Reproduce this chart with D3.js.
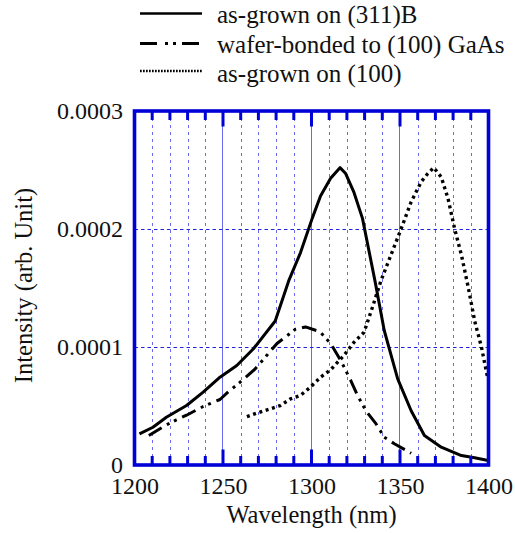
<!DOCTYPE html>
<html>
<head>
<meta charset="utf-8">
<script src="https://cdn.jsdelivr.net/npm/d3@7"></script>
<style>
    body { margin: 0; background: #ffffff; }
    svg text { font-family: 'Liberation Serif', 'Times New Roman', 'DejaVu Serif', serif; }
</style>
</head>
<body>
<div id="chart"></div>
<script>

// as-grown on (311)B  (solid)
let grown311Wavelength = [1202.8, 1210.4, 1218, 1229.4, 1238.8, 1248.3, 1257.8, 1267.2, 1279.5, 1287.1, 1293.8, 1300.4, 1305.1, 1310.8, 1316.1, 1319.3, 1324, 1328.8, 1336, 1341.1, 1348.7, 1356.3, 1363.8, 1373.3, 1384.7, 1392.2, 1399.8];
let grown311Intensity = [0.264e-4, 0.32e-4, 0.405e-4, 0.504e-4, 0.617e-4, 0.744e-4, 0.843e-4, 0.985e-4, 1.22e-4, 1.56e-4, 1.8e-4, 2.09e-4, 2.28e-4, 2.43e-4, 2.52e-4, 2.47e-4, 2.31e-4, 2.09e-4, 1.55e-4, 1.14e-4, 0.73e-4, 0.46e-4, 0.25e-4, 0.151e-4, 0.08e-4, 0.061e-4, 0.038e-4];

// wafer-bonded to (100) GaAs  (dash-dot)
let bondedWavelength = [1208.1, 1217.4, 1223.7, 1229.4, 1238.8, 1248.3, 1253, 1261.5, 1268.2, 1274.8, 1280.5, 1290.9, 1296.6, 1304.7, 1310.8, 1316.5, 1322.2, 1326, 1330.7, 1336.4, 1341.1, 1346.8, 1356.3];
let bondedIntensity = [0.25e-4, 0.335e-4, 0.383e-4, 0.422e-4, 0.496e-4, 0.555e-4, 0.62e-4, 0.725e-4, 0.815e-4, 0.93e-4, 1.03e-4, 1.15e-4, 1.17e-4, 1.13e-4, 1.03e-4, 0.886e-4, 0.716e-4, 0.59e-4, 0.46e-4, 0.35e-4, 0.236e-4, 0.18e-4, 0.1e-4];

// as-grown on (100)  (dotted)
let grown100Wavelength = [1263.5, 1269.1, 1276.7, 1282.4, 1288.1, 1293.8, 1299.4, 1305.1, 1310.8, 1318.4, 1324, 1329.7, 1334.5, 1339.2, 1344.9, 1350.6, 1356.3, 1362, 1365.7, 1369.1, 1373.3, 1377.1, 1380.9, 1384.7, 1388.5, 1392.2, 1396, 1399.5];
let grown100Intensity = [0.41e-4, 0.44e-4, 0.476e-4, 0.504e-4, 0.56e-4, 0.59e-4, 0.66e-4, 0.744e-4, 0.807e-4, 0.93e-4, 1.04e-4, 1.125e-4, 1.34e-4, 1.56e-4, 1.78e-4, 2.0e-4, 2.23e-4, 2.4e-4, 2.47e-4, 2.52e-4, 2.44e-4, 2.26e-4, 2.0e-4, 1.78e-4, 1.51e-4, 1.22e-4, 1.0e-4, 0.74e-4];

let legendLabels = ["as-grown on (311)B", "wafer-bonded to (100) GaAs", "as-grown on (100)"];

let xTickValues = [1200, 1250, 1300, 1350, 1400];
let xMinorTicks = [1210, 1220, 1230, 1240, 1260, 1270, 1280, 1290, 1310, 1320, 1330, 1340, 1360, 1370, 1380, 1390];
let xMajorGrid = [1250, 1300, 1350];
let yTickValues = [0, 0.0001, 0.0002, 0.0003];
let yTickLabels = ["0", "0.0001", "0.0002", "0.0003"];
let yGridValues = [0.0001, 0.0002];

const SERIF = "'Liberation Serif', 'Times New Roman', 'DejaVu Serif', serif";

class SpectrumChart {

    constructor () {
        this.width = 515;
        this.height = 533;
        this.plot = {left: 134.5, right: 488.5, top: 111, bottom: 465};
        this.blue = "#0000d8";

        this.svg = d3.select("#chart").append("svg")
            .attr("width", this.width)
            .attr("height", this.height)
            .attr("font-family", SERIF);

        this.xScale = d3.scaleLinear()
            .domain([1200, 1400])
            .range([this.plot.left, this.plot.right]);

        this.yScale = d3.scaleLinear()
            .domain([0, 0.0003])
            .range([this.plot.bottom, this.plot.top]);

        this.series = [
            {x: grown311Wavelength, y: grown311Intensity, dash: null, legendDash: null, width: 3, legendWidth: 2.6},
            {x: bondedWavelength, y: bondedIntensity, dash: "15,6,3,5,3,6", legendDash: "17,8,3,5,3,6", width: 3, legendWidth: 3},
            {x: grown100Wavelength, y: grown100Intensity, dash: "3,3.6", legendDash: "1.7,1.3", width: 3.4, legendWidth: 2.6}
        ];

        this.drawGrid();
        this.drawCurves();
        this.drawFrame();
        this.drawAxes();
        this.drawLegend();
    }

    drawGrid () {
        let self = this;
        let g = this.svg.append("g").attr("class", "grid");

        g.selectAll(".minor").data(xMinorTicks).enter().append("line")
            .attr("x1", d => Math.round(self.xScale(d)) + 0.5)
            .attr("x2", d => Math.round(self.xScale(d)) + 0.5)
            .attr("y1", this.plot.top)
            .attr("y2", this.plot.bottom)
            .attr("stroke", "#6a6af0")
            .attr("stroke-width", 1)
            .attr("stroke-dasharray", "3,4");

        g.selectAll(".major").data(xMajorGrid).enter().append("line")
            .attr("x1", d => Math.round(self.xScale(d)) - 0.5)
            .attr("x2", d => Math.round(self.xScale(d)) - 0.5)
            .attr("y1", this.plot.top)
            .attr("y2", this.plot.bottom)
            .attr("stroke", "#6a6af0")
            .attr("stroke-width", 1);

        g.selectAll(".hgrid").data(yGridValues).enter().append("line")
            .attr("x1", this.plot.left)
            .attr("x2", this.plot.right)
            .attr("y1", d => Math.round(self.yScale(d)) + 0.5)
            .attr("y2", d => Math.round(self.yScale(d)) + 0.5)
            .attr("stroke", "#2222e0")
            .attr("stroke-width", 1)
            .attr("stroke-dasharray", "3.5,3");
    }

    drawCurves () {
        let self = this;

        this.svg.append("clipPath").attr("id", "plotClip")
            .append("rect")
            .attr("x", this.plot.left)
            .attr("y", this.plot.top)
            .attr("width", this.plot.right - this.plot.left)
            .attr("height", this.plot.bottom - this.plot.top);

        let line = d3.line()
            .x(d => self.xScale(d[0]))
            .y(d => self.yScale(d[1]));

        this.svg.append("g")
            .attr("clip-path", "url(#plotClip)")
            .selectAll("path")
            .data(this.series)
            .enter().append("path")
            .attr("d", s => line(s.x.map((v, i) => [v, s.y[i]])))
            .attr("fill", "none")
            .attr("stroke", "#000")
            .attr("stroke-width", s => s.width)
            .attr("stroke-linejoin", "round")
            .attr("stroke-dasharray", s => s.dash);
    }

    drawFrame () {
        let self = this;
        let g = this.svg.append("g").attr("class", "frame");

        let ticks = xMinorTicks.map(d => ({v: d, len: 9}))
            .concat(xMajorGrid.map(d => ({v: d, len: 15.5})));

        // inward ticks on bottom and top edges
        [this.plot.bottom, this.plot.top].forEach(function(edge, k){
            let dir = k == 0 ? -1 : 1;
            g.selectAll(".tick" + k).data(ticks).enter().append("line")
                .attr("x1", d => self.xScale(d.v))
                .attr("x2", d => self.xScale(d.v))
                .attr("y1", edge)
                .attr("y2", d => edge + dir * d.len)
                .attr("stroke", self.blue)
                .attr("stroke-width", 3);
        });

        g.append("rect")
            .attr("x", this.plot.left)
            .attr("y", this.plot.top)
            .attr("width", this.plot.right - this.plot.left)
            .attr("height", this.plot.bottom - this.plot.top)
            .attr("fill", "none")
            .attr("stroke", this.blue)
            .attr("stroke-width", 3.6);
    }

    drawAxes () {
        let xAxis = this.svg.append("g")
            .attr("transform", "translate(0," + this.plot.bottom + ")")
            .call(d3.axisBottom(this.xScale).tickValues(xTickValues).tickSize(0).tickPadding(11.5).tickFormat(d3.format("d")));

        let yAxis = this.svg.append("g")
            .attr("transform", "translate(" + this.plot.left + ",0)")
            .call(d3.axisLeft(this.yScale).tickValues(yTickValues).tickSize(0).tickPadding(11.5)
                .tickFormat((d, i) => yTickLabels[i]));

        [xAxis, yAxis].forEach(function(a){
            a.attr("font-family", SERIF).attr("font-size", 24);
            a.select(".domain").remove();
            a.selectAll("text")
                .attr("font-family", SERIF)
                .attr("font-size", 24)
                .attr("fill", "#111");
        });

        this.svg.append("text")
            .attr("x", (this.plot.left + this.plot.right) / 2)
            .attr("y", 523)
            .attr("text-anchor", "middle")
            .attr("font-family", SERIF)
            .attr("font-size", 24.5)
            .attr("fill", "#111")
            .text("Wavelength (nm)");

        this.svg.append("text")
            .attr("transform", "translate(32," + 285.5 + ") rotate(-90)")
            .attr("text-anchor", "middle")
            .attr("font-family", SERIF)
            .attr("font-size", 24.5)
            .attr("fill", "#111")
            .text("Intensity (arb. Unit)");
    }

    drawLegend () {
        let lineY = [13.5, 43.5, 71];
        let textY = [23, 52.5, 81.5];

        let legend = this.svg.append("g")
            .selectAll("g")
            .data(this.series)
            .enter().append("g");

        legend.append("line")
            .attr("x1", 140)
            .attr("x2", 202)
            .attr("y1", (d, i) => lineY[i])
            .attr("y2", (d, i) => lineY[i])
            .attr("stroke", "#000")
            .attr("stroke-width", d => d.legendWidth)
            .attr("stroke-dasharray", d => d.legendDash);

        legend.append("text")
            .attr("x", 217)
            .attr("y", (d, i) => textY[i])
            .attr("font-family", SERIF)
            .attr("font-size", 25)
            .attr("fill", "#111")
            .text((d, i) => legendLabels[i]);
    }
};

new SpectrumChart();

</script>
</body>
</html>
